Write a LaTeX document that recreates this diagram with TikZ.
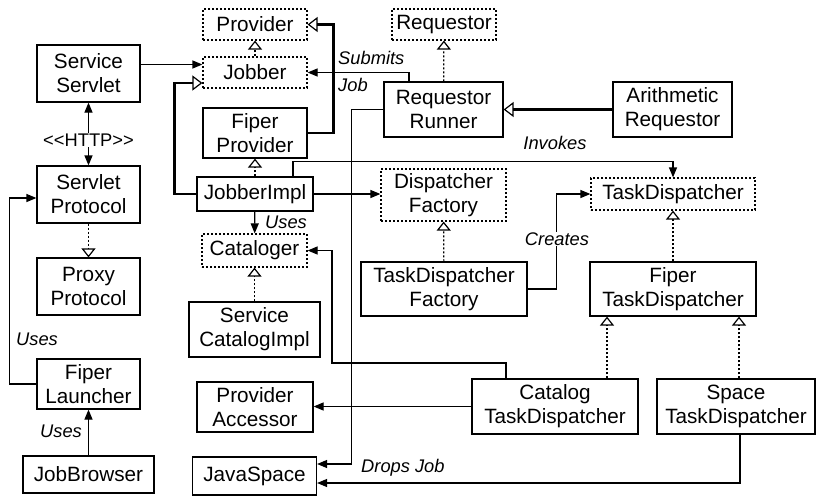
\documentclass[tikz,border=0pt]{standalone}
\usepackage{fontspec}
\setmainfont{Liberation Sans}[Ligatures=TeXOff]
\usetikzlibrary{arrows.meta}
\begin{document}
\begin{tikzpicture}[x=1pt,y=-1pt,
  cls/.style={draw, line width=1.2pt, inner sep=0pt, align=center,
    font=\fontsize{20.7}{24}\selectfont},
  iface/.style={cls, dash pattern=on 2pt off 2pt},
  lbl/.style={font=\itshape\fontsize{18.3}{20}\selectfont, inner sep=1pt},
  conn/.style={line width=1.2pt, -{Triangle[length=10pt,width=8pt]}},
  real/.style={line width=1.2pt, dash pattern=on 2pt off 2pt,
    -{Triangle[open,length=9pt,width=14pt,line width=1.2pt]}},
  inh/.style={line width=2.8pt,
    -{Triangle[open,length=10pt,width=15pt,line width=1.2pt]}}]
\useasboundingbox (0,0) rectangle (817,498);

% interfaces
\node[iface, minimum width=104pt, minimum height=31pt] (prov) at (255,24.5) {Provider};
\node[iface, minimum width=104pt, minimum height=31pt] (jobber) at (255,72.5) {Jobber};
\node[iface, minimum width=104pt, minimum height=31pt] (req) at (444,24.5) {Requestor};
\node[iface, minimum width=125pt, minimum height=52pt] (df) at (443.5,195) {Dispatcher\\Factory};
\node[iface, minimum width=164pt, minimum height=32pt] (td) at (673,194) {TaskDispatcher};
\node[iface, minimum width=105pt, minimum height=33pt] (cat) at (254.5,250.5) {Cataloger};

% classes
\node[cls, minimum width=103pt, minimum height=57pt] (ss) at (88.5,73.5) {Service\\Servlet};
\node[cls, minimum width=104pt, minimum height=50pt] (fp) at (255,133) {Fiper\\Provider};
\node[cls, minimum width=119pt, minimum height=55pt] (rr) at (443.5,109.5) {Requestor\\Runner};
\node[cls, minimum width=119pt, minimum height=55pt] (ar) at (672.5,109.5) {Arithmetic\\Requestor};
\node[cls, minimum width=103pt, minimum height=57pt] (sp) at (88.5,194.5) {Servlet\\Protocol};
\node[cls, minimum width=116pt, minimum height=34pt] (ji) at (255,194) {JobberImpl};
\node[cls, minimum width=103pt, minimum height=57pt] (pp) at (88.5,286.5) {Proxy\\Protocol};
\node[cls, minimum width=166pt, minimum height=54pt] (tdf) at (444,289) {TaskDispatcher\\Factory};
\node[cls, minimum width=166pt, minimum height=54pt] (ftd) at (673,289) {Fiper\\TaskDispatcher};
\node[cls, minimum width=131pt, minimum height=55pt] (sci) at (254.5,329.5) {Service\\CatalogImpl};
\node[cls, minimum width=103pt, minimum height=50pt] (fl) at (88.5,384) {Fiper\\Launcher};
\node[cls, minimum width=116pt, minimum height=50pt] (pa) at (255,407) {Provider\\Accessor};
\node[cls, minimum width=166pt, minimum height=55pt] (ctd) at (555,406.5) {Catalog\\TaskDispatcher};
\node[cls, minimum width=158pt, minimum height=55pt] (std) at (736,406.5) {Space\\TaskDispatcher};
\node[cls, minimum width=131pt, minimum height=37pt] (jb) at (88.5,474.5) {JobBrowser};
\node[cls, minimum width=124pt, minimum height=38pt] (js) at (254.5,476) {JavaSpace};

% labels
\node[lbl] (http) at (88.5,140) {\upshape <<HTTP>>};
\node[lbl, anchor=west] (lsub) at (337,58) {Submits};
\node[lbl, anchor=west] (ljob) at (337,85) {Job};
\node[lbl] (linv) at (555,143) {Invokes};
\node[lbl, anchor=west] (luses1) at (264,222) {Uses};
\node[lbl, anchor=west] (luses2) at (15,339) {Uses};
\node[lbl] (luses3) at (61,431) {Uses};
\node[lbl, anchor=west] (ldrop) at (360,468) {Drops Job};

% left column
\draw[conn] (http) -- (ss);
\draw[conn] (http) -- (sp);
\draw[real] (sp) -- (pp);
\draw[conn] (jb) -- (fl);
\draw[conn] (fl.west) -- ++(-27,0) |- ([yshift=-3.5pt]sp.west);
\draw[conn] ([yshift=9pt]ss.east) -- ([yshift=8pt]jobber.west);

% provider side
\draw[real] (jobber) -- (prov);
\draw[inh] (fp.east) -| ([xshift=26pt]prov.east) -- (prov.east);
\draw[inh] (ji.west) -- ++(-22,0) |- ([yshift=-10.5pt]jobber.west);
\draw[real] (ji) -- (fp);
\draw[conn] (ji.east) -- (ji.east -| df.west);
\draw[conn] ([xshift=38pt]ji.north) -- ++(0,-15) -| (td.north);
\draw[conn] (ji) -- (cat);
\draw[real] (sci) -- (cat);

% requestor side
\draw[real] (rr) -- (req);
\draw[inh] (ar.west) -- (rr.east);
\draw[conn] ([xshift=-34.5pt]rr.north) |- (jobber.east);
\draw[conn] (rr.west) -- ++(-32,0) |- ([yshift=12pt]js.east);

% dispatchers
\draw[real] (tdf) -- (df);
\draw[real] (ftd) -- (td);
\draw[real] (ctd.north -| 607,0) -- (ftd.south -| 607,0);
\draw[real] (std.north -| 739,0) -- (ftd.south -| 739,0);
\draw[conn] (tdf.east) -| ([xshift=-34pt]td.west) -- (td.west);
\node[lbl, fill=white] (lcre) at (557,239) {Creates};
\draw[conn] ([xshift=-49pt]ctd.north) |- (332,363) |- (cat.east);
\draw[conn] (ctd.west) -- (ctd.west -| pa.east);
\draw[conn] ([xshift=4pt]std.south) |- ([yshift=-7pt]js.east);
\end{tikzpicture}
\end{document}
